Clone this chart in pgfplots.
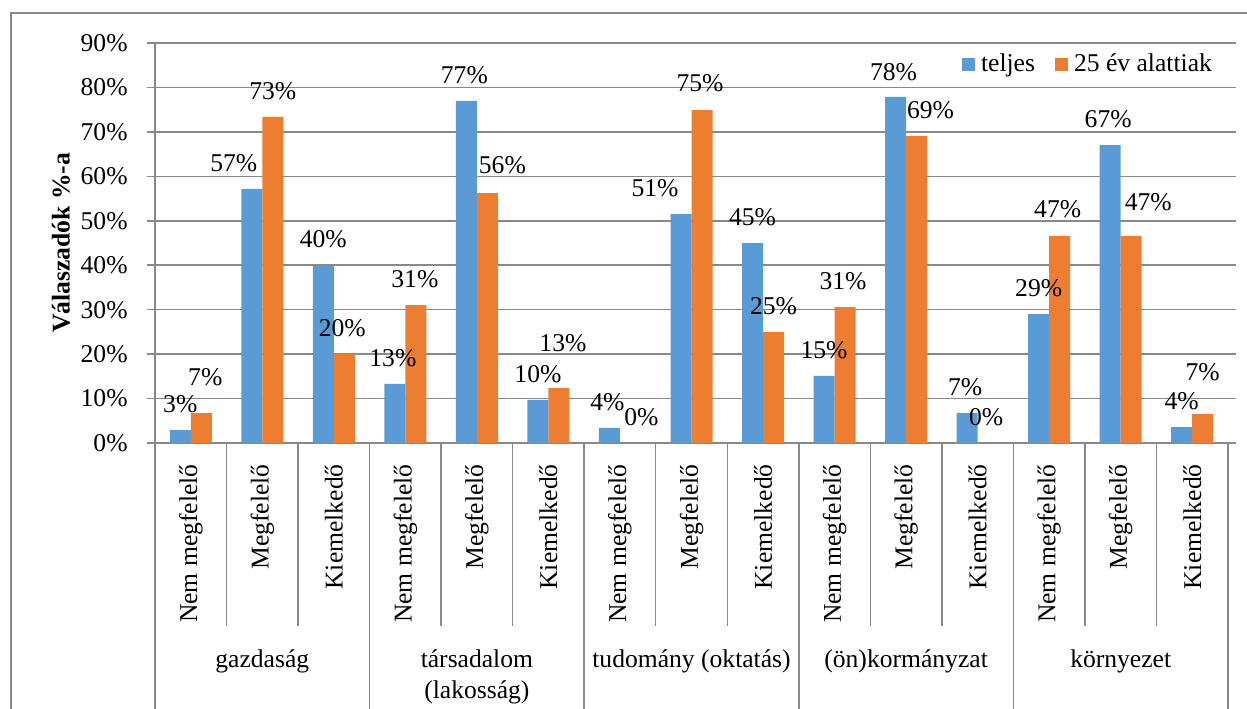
\documentclass[border=0pt]{standalone}
\usepackage{pgfplots}
\usepackage{pgfplotstable}
\pgfplotsset{compat=1.18}
\usepackage{fontspec}
\setmainfont{Liberation Serif}
\definecolor{cblue}{HTML}{5B9BD5}
\definecolor{corange}{HTML}{ED7D31}
\definecolor{gridc}{HTML}{898989}

\pgfplotstableread{
x y lbl dx dy
0 2.9 3 0 0
1 57.2 57 -9 0
2 39.8 40 0 0.5
3 13.3 13 -1 0
4 77.0 77 -1 0
5 9.7 10 0 0
6 3.4 4 -1 0
7 51.5 51 -13 0
8 45.0 45 0 0
9 15.1 15 0 0
10 77.9 78 -1 -0.5
11 6.75 7 -1 0
12 29.0 29 0 0
13 67.05 67 -1 0
14 3.6 4 0 0
}\teljes

\pgfplotstableread{
x y lbl dx dy
0 6.75 7 2 5
1 73.4 73 0 0
2 20.0 20 -1 0
3 31.05 31 -0.5 0
4 56.25 56 7.5 1
5 12.4 13 2 9.5
6 0 0 5.5 0
7 74.9 75 -1 0.5
8 25.0 25 0 0
9 30.6 31 -1 0
10 69.1 69 7 0
11 0 0 -1 0
12 46.6 47 -1 0.5
13 46.6 47 8.5 4
14 6.5 7 0 8
}\fiatal

\pgfplotsset{sqlegend/.style={legend image code/.code={\fill[##1] (0pt,-3.2pt) rectangle (6.5pt,3.2pt);}}}

\begin{document}
\fontsize{12.8pt}{15pt}\selectfont
\begin{tikzpicture}
\draw[gridc, line width=0.75pt] (5.5pt,-10pt) rectangle (630pt,347.5pt);
\begin{axis}[
  at={(77.5pt,132.5pt)}, anchor=south west,
  scale only axis, width=536.5pt, height=200pt,
  xmin=-0.5, xmax=14.5, ymin=0, ymax=90,
  ybar=0pt, bar width=10.5pt,
  axis line style={draw=none},
  xtick={0,...,14},
  xticklabels={Nem megfelelő,Megfelelő,Kiemelkedő,Nem megfelelő,Megfelelő,Kiemelkedő,Nem megfelelő,Megfelelő,Kiemelkedő,Nem megfelelő,Megfelelő,Kiemelkedő,Nem megfelelő,Megfelelő,Kiemelkedő},
  xticklabel style={rotate=90, anchor=east, inner xsep=6.5pt, inner ysep=0pt},
  x tick style={draw=none},
  ytick={0,10,...,90},
  yticklabels={0\%,10\%,20\%,30\%,40\%,50\%,60\%,70\%,80\%,90\%},
  yticklabel style={anchor=east, inner xsep=0pt, inner ysep=0pt, xshift=-9.5pt},
  y tick style={gridc, line width=0.75pt},
  tick align=outside, major tick length=4pt,
  ymajorgrids, grid style={gridc, line width=0.75pt},
  ylabel={\bfseries Válaszadók \%-a},
  ylabel style={at={(axis description cs:-0.0876,0.5)}, anchor=center},
  legend columns=2,
  legend style={draw=none, fill=none, at={(axis description cs:0.991,0.947)}, anchor=east, inner sep=0pt,
    /tikz/every even column/.append style={column sep=7pt},
    nodes={inner xsep=3pt, inner ysep=0pt}},
  nodes near coords={\pgfplotspointmeta\%},
  point meta=explicit symbolic,
  visualization depends on={\thisrow{dx}\as\mydx},
  visualization depends on={\thisrow{dy}\as\mydy},
  every node near coord/.append style={anchor=center, inner sep=0pt, xshift={\mydx*1pt}, yshift={(13+\mydy)*1pt}, text=black},
  clip=false,
]
\addplot[fill=cblue, draw=none, sqlegend] table[x=x, y=y, meta=lbl] {\teljes};
\addplot[fill=corange, draw=none, sqlegend] table[x=x, y=y, meta=lbl] {\fiatal};
\legend{teljes, 25 év alattiak}
\end{axis}
\draw[gridc, line width=0.75pt] (77.5pt,-10pt) -- (77.5pt,332.5pt);
\foreach \k in {1,2,4,5,7,8,10,11,13,14}
  \draw[gridc, line width=0.75pt] ({(155+\k*71.5333)*0.5pt},132.5pt) -- ({(155+\k*71.5333)*0.5pt},41pt);
\foreach \k in {3,6,9,12,15}
  \draw[gridc, line width=0.75pt] ({(155+\k*71.5333)*0.5pt},132.5pt) -- ({(155+\k*71.5333)*0.5pt},-10pt);
\node[anchor=base] at (131.15pt,20.5pt) {gazdaság};
\node[anchor=base] at (238.45pt,20.5pt) {társadalom};
\node[anchor=base] at (238.45pt,5pt) {(lakosság)};
\node[anchor=base] at (345.75pt,20.5pt) {tudomány (oktatás)};
\node[anchor=base] at (453.05pt,20.5pt) {(ön)kormányzat};
\node[anchor=base] at (560.35pt,20.5pt) {környezet};
\pgfresetboundingbox
\useasboundingbox (0,0) rectangle (623.5pt,354pt);
\end{tikzpicture}
\end{document}
